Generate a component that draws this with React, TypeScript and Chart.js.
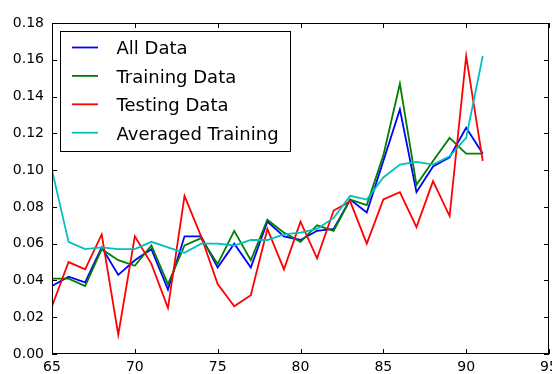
import React, { useEffect, useRef } from "react";
import { Chart, registerables } from "chart.js";

Chart.register(...registerables);

const years = [65, 66, 67, 68, 69, 70, 71, 72, 73, 74, 75, 76, 77, 78, 79, 80, 81, 82, 83, 84, 85, 86, 87, 88, 89, 90, 91];
const allData = [0.037, 0.042, 0.039, 0.058, 0.043, 0.051, 0.057, 0.035, 0.064, 0.064, 0.047, 0.060, 0.047, 0.072, 0.064, 0.062, 0.067, 0.068, 0.084, 0.077, 0.105, 0.133, 0.088, 0.102, 0.107, 0.123, 0.109];
const trainingData = [0.041, 0.041, 0.037, 0.057, 0.051, 0.048, 0.059, 0.038, 0.059, 0.063, 0.049, 0.067, 0.051, 0.073, 0.066, 0.061, 0.070, 0.067, 0.084, 0.081, 0.108, 0.147, 0.092, 0.105, 0.1175, 0.109, 0.109];
const testingData = [0.026, 0.050, 0.046, 0.065, 0.0105, 0.064, 0.049, 0.025, 0.086, 0.064, 0.038, 0.026, 0.032, 0.068, 0.046, 0.072, 0.052, 0.078, 0.083, 0.060, 0.084, 0.088, 0.069, 0.094, 0.075, 0.162, 0.105];
const averagedTraining = [0.100, 0.061, 0.057, 0.058, 0.057, 0.057, 0.061, 0.058, 0.055, 0.060, 0.060, 0.059, 0.062, 0.062, 0.065, 0.066, 0.068, 0.074, 0.086, 0.084, 0.096, 0.103, 0.1045, 0.103, 0.1075, 0.1175, 0.162];

const seriesLabels = ["All Data", "Training Data", "Testing Data", "Averaged Training"];
const seriesColors = ["#0000ff", "#008000", "#ff0000", "#00bfbf"];
const seriesValues = [allData, trainingData, testingData, averagedTraining];

const xTicks = [65, 70, 75, 80, 85, 90, 95];
const yTicks = [0, 0.02, 0.04, 0.06, 0.08, 0.1, 0.12, 0.14, 0.16, 0.18];

const FONT = "DejaVu Sans";

const framePlugin = {
  id: "frame",
  afterDatasetsDraw(chart: any) {
    const { ctx, chartArea } = chart;
    const { left, right, top, bottom } = chartArea;
    const xs = chart.scales.x;
    const ys = chart.scales.y;
    ctx.save();
    ctx.strokeStyle = "#000";
    ctx.lineWidth = 1;
    const tl = 5;
    ctx.beginPath();
    xTicks.forEach((v) => {
      const px = Math.round(xs.getPixelForValue(v)) + 0.5;
      ctx.moveTo(px, bottom);
      ctx.lineTo(px, bottom - tl);
      ctx.moveTo(px, top);
      ctx.lineTo(px, top + tl);
    });
    yTicks.forEach((v) => {
      const py = Math.round(ys.getPixelForValue(v)) + 0.5;
      ctx.moveTo(left, py);
      ctx.lineTo(left + tl, py);
      ctx.moveTo(right, py);
      ctx.lineTo(right - tl, py);
    });
    ctx.stroke();
    ctx.strokeRect(Math.round(left) + 0.5, Math.round(top) + 0.5, Math.round(right - left) - 1, Math.round(bottom - top) - 1);

    // legend
    const lx = 60.5, ly = 31.5, lw = 230, lh = 120;
    ctx.fillStyle = "#fff";
    ctx.fillRect(lx, ly, lw, lh);
    ctx.strokeRect(lx, ly, lw, lh);
    ctx.font = `18px "${FONT}"`;
    ctx.textBaseline = "alphabetic";
    ctx.textAlign = "left";
    chart.data.datasets.forEach((ds: any, i: number) => {
      const cy = 47.5 + i * 28.4;
      ctx.strokeStyle = ds.borderColor;
      ctx.lineWidth = 1.8;
      ctx.beginPath();
      ctx.moveTo(72, cy);
      ctx.lineTo(98, cy);
      ctx.stroke();
      ctx.fillStyle = "#000";
      ctx.fillText(ds.label, 116.5, cy + 6.8);
    });
    ctx.restore();
  },
};

export default function App() {
  const ref = useRef<HTMLCanvasElement | null>(null);
  useEffect(() => {
    if (!ref.current) return;
    const datasets = seriesLabels.map((label, i) => ({
      label,
      data: years.map((x, j) => ({ x, y: seriesValues[i][j] })),
      borderColor: seriesColors[i],
      backgroundColor: seriesColors[i],
      borderWidth: 1.8,
      pointRadius: 0,
      tension: 0,
      fill: false,
      order: seriesLabels.length - i,
    }));
    const chart = new Chart(ref.current, {
      type: "line",
      data: { datasets },
      plugins: [framePlugin],
      options: {
        animation: false,
        responsive: false,
        maintainAspectRatio: false,
        layout: { padding: { left: 0, right: 3, top: 23, bottom: 0 } },
        plugins: { legend: { display: false }, tooltip: { enabled: false } },
        scales: {
          x: {
            type: "linear",
            min: 65,
            max: 95,
            afterBuildTicks: (scale: any) => {
              scale.ticks = xTicks.map((v) => ({ value: v }));
            },
            afterFit: (scale: any) => {
              scale.height = 20;
              scale.paddingLeft = 0;
              scale.paddingRight = 0;
            },
            grid: { display: false, drawTicks: false },
            border: { display: false },
            ticks: {
              padding: 5,
              color: "#000",
              font: { family: FONT, size: 14 },
              maxRotation: 0,
              autoSkip: false,
              callback: (v: any) => String(v),
            },
          },
          y: {
            type: "linear",
            min: 0,
            max: 0.18,
            afterBuildTicks: (scale: any) => {
              scale.ticks = yTicks.map((v) => ({ value: v }));
            },
            afterFit: (scale: any) => {
              scale.width = 52;
              scale.paddingTop = 0;
              scale.paddingBottom = 0;
            },
            grid: { display: false, drawTicks: false },
            border: { display: false },
            ticks: {
              padding: 8,
              color: "#000",
              font: { family: FONT, size: 14 },
              autoSkip: false,
              callback: (v: any) => Number(v).toFixed(2),
            },
          },
        },
      },
    });
    return () => chart.destroy();
  }, []);
  return (
    <div style={{ position: "fixed", left: 0, top: 0, width: 552, height: 374, background: "#fff" }}>
      <canvas ref={ref} width={552} height={374} style={{ width: 552, height: 374, display: "block" }} />
    </div>
  );
}
